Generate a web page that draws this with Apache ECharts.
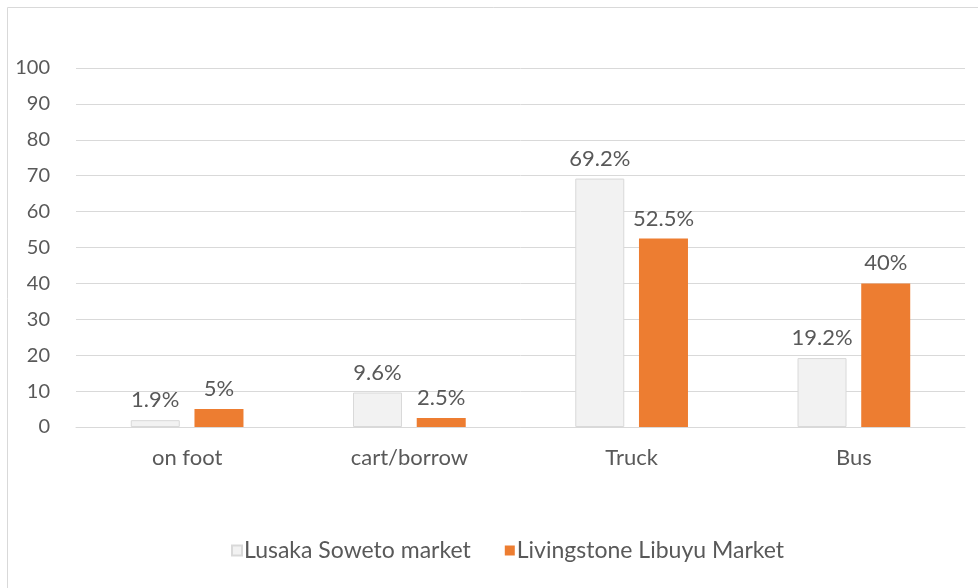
<!DOCTYPE html>
<html>
<head>
<meta charset="utf-8">
<script src="https://cdn.jsdelivr.net/npm/echarts@6/dist/echarts.min.js"></script>
<style>
  html, body { margin: 0; padding: 0; background: #fff; }
  #chart { width: 978px; height: 588px; }
</style>
</head>
<body>
<div id="chart"></div>
<script>
// Mode of transport used to reach the market, share of traders (%)
const categories = ['on foot', 'cart/borrow', 'Truck', 'Bus'];
const lusakaSoweto = [1.9, 9.6, 69.2, 19.2];
const livingstoneLibuyu = [5, 2.5, 52.5, 40];
const seriesNames = ['Lusaka Soweto market', 'Livingstone Libuyu Market'];

const textColor = '#595959';
const fontFamily = 'Lato, "Open Sans", sans-serif';

const chart = echarts.init(document.getElementById('chart'));

const labelStyle = {
  show: true,
  position: 'top',
  distance: 9,
  formatter: p => p.value + '%',
  color: textColor,
  fontSize: 22,
  fontFamily: fontFamily
};

chart.setOption({
  animation: false,
  graphic: [{
    type: 'rect',
    shape: { x: 7.5, y: 7.5, width: 978, height: 590 },
    style: { fill: 'none', stroke: '#d9d9d9', lineWidth: 1 },
    silent: true
  }],
  grid: { left: 76, right: 13, top: 68, bottom: 161 },
  legend: {
    bottom: 21,
    left: 226,
    itemWidth: 10,
    itemHeight: 10,
    itemGap: 34,
    icon: 'rect',
    textStyle: { color: textColor, fontSize: 23, fontFamily: fontFamily, padding: [0, 0, 0, -3] },
    data: seriesNames
  },
  xAxis: {
    type: 'category',
    data: categories,
    axisLine: { lineStyle: { color: '#d9d9d9' } },
    axisTick: { show: false },
    axisLabel: { color: textColor, fontSize: 22, fontFamily: fontFamily, margin: 20 }
  },
  yAxis: {
    type: 'value',
    min: 0,
    max: 100,
    interval: 10,
    axisLine: { show: false },
    axisTick: { show: false },
    splitLine: { lineStyle: { color: '#d9d9d9' } },
    axisLabel: { color: textColor, fontSize: 20, fontFamily: fontFamily, margin: 26 }
  },
  series: [
    {
      name: seriesNames[0],
      type: 'bar',
      data: lusakaSoweto,
      barWidth: 49,
      barGap: '30%',
      itemStyle: { color: '#f2f2f2', borderColor: '#d9d9d9', borderWidth: 1 },
      label: labelStyle
    },
    {
      name: seriesNames[1],
      type: 'bar',
      data: livingstoneLibuyu,
      barWidth: 49,
      itemStyle: { color: '#ed7d31' },
      label: labelStyle
    }
  ]
});
</script>
</body>
</html>
